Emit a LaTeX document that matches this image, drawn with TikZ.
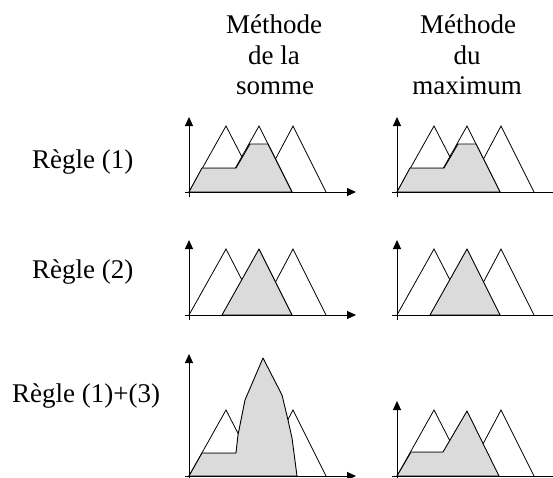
\documentclass[tikz,border=0pt]{standalone}
\usepackage{fontspec}
\setmainfont{Liberation Serif}
\usetikzlibrary{arrows.meta}
\begin{document}
\begin{tikzpicture}[x=1pt,y=-1pt,
  tri/.style={draw=black,line width=0.8pt,line join=miter},
  area/.style={fill=black!14,draw=black,line width=0.9pt,line join=round},
  flat/.style={draw=black!55,line width=0.9pt},
  axis/.style={line width=1pt,-{Triangle[length=9pt,width=8pt]}},
  axisplain/.style={line width=1pt},
  lbl/.style={font=\fontsize{27}{32}\selectfont,inner sep=0pt}]
\useasboundingbox (0,0) rectangle (553,477);

% column headings
\node[lbl,anchor=base] (h1a) at (274,33) {Méthode};
\node[lbl,anchor=base] (h1b) at (274,64) {de la};
\node[lbl,anchor=base] (h1c) at (275,94) {somme};
\node[lbl,anchor=base] (h2a) at (468,33) {Méthode};
\node[lbl,anchor=base] (h2b) at (467,64) {du};
\node[lbl,anchor=base] (h2c) at (467,94) {maximum};

% row labels
\node[lbl,anchor=base west] (r1) at (32,168) {Règle (1)};
\node[lbl,anchor=base west] (r2) at (32,278) {Règle (2)};
\node[lbl,anchor=base west] (r3) at (12,402) {Règle (1)+(3)};

% ---------- Rule 1, both methods ----------
\foreach \dx in {0,208} {
\begin{scope}[shift={(\dx,0)}]
  \draw[tri] (189,192) -- (226,126) -- (260,192);
  \draw[tri] (222,192) -- (259,126) -- (292,192);
  \draw[tri] (258,192) -- (293,126) -- (326,192);
  \filldraw[area] (189,192) -- (202,168) -- (236,168) -- (250,144) -- (268,144) -- (292,192) -- cycle;
  \draw[flat] (202,168) -- (236,168);
  \draw[axis] (189,197) -- (189,117);
\end{scope}
}
\draw[axis] (185,192) -- (356,192);
\draw[axisplain] (392,192) -- (553,192);

% ---------- Rule 2, both methods ----------
\foreach \dx in {0,208} {
\begin{scope}[shift={(\dx,123)}]
  \draw[tri] (189,192) -- (226,126) -- (260,192);
  \draw[tri] (258,192) -- (293,126) -- (326,192);
  \filldraw[area] (222,192) -- (259,126) -- (292,192) -- cycle;
  \draw[axis] (189,197) -- (189,117);
\end{scope}
}
\draw[axis] (185,315) -- (356,315);
\draw[axisplain] (392,315) -- (553,315);

% ---------- Rule (1)+(3), sum ----------
\draw[tri] (189,476) -- (226,410) -- (260,476);
\draw[tri] (258,476) -- (293,410) -- (326,476);
\filldraw[area] (189,476) -- (202,453) -- (236,453) -- (238,435) -- (245,400)
  -- (263,358) -- (282,395) -- (288,420) -- (292,438) -- (297,476) -- cycle;
\draw[flat] (202,453) -- (236,453);
\draw[axis] (189,481) -- (189,354);
\draw[axis] (185,476) -- (356,476);

% ---------- Rule (1)+(3), maximum ----------
\begin{scope}[shift={(208,284)}]
  \draw[tri] (189,192) -- (226,126) -- (260,192);
  \draw[tri] (258,192) -- (293,126) -- (326,192);
  \filldraw[area] (189,192) -- (203,168) -- (235,168) -- (259,127) -- (291,192) -- cycle;
  \draw[flat] (203,168) -- (235,168);
  \draw[axis] (189,197) -- (189,117);
\end{scope}
\draw[axisplain] (392,476) -- (553,476);
\end{tikzpicture}
\end{document}
